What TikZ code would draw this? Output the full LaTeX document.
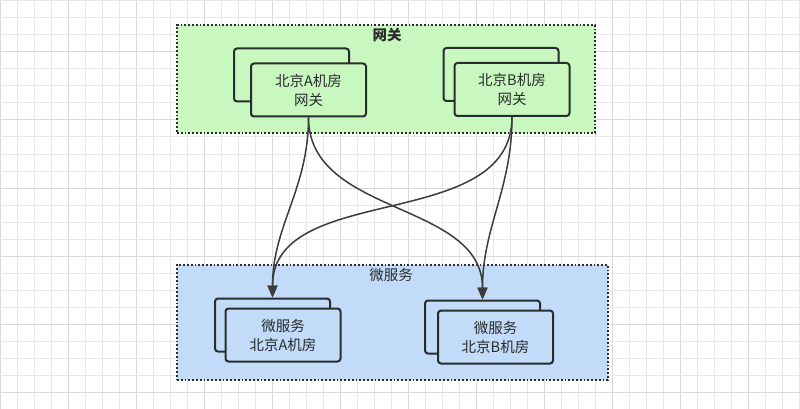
\documentclass[tikz,border=0pt]{standalone}
\usepackage{fontspec}
\setmainfont{Noto Sans CJK SC}
\usepackage{tikz}
\usetikzlibrary{arrows.meta}
\definecolor{zoneGreen}{RGB}{200,248,192}
\definecolor{zoneBlue}{RGB}{193,219,248}
\definecolor{lineDark}{RGB}{40,44,44}
\definecolor{edgeGray}{RGB}{60,60,60}
\definecolor{gridMinor}{RGB}{232,232,232}
\definecolor{gridMajor}{RGB}{218,218,218}
\tikzset{
  zone/.style={draw=lineDark, line width=1.8pt, dash pattern=on 1.8pt off 2pt, minimum width=#1},
  room/.style={draw=lineDark, line width=2pt, rounded corners=3pt, minimum width=115pt, minimum height=53pt, align=center, font=\fontsize{14.5}{19}\selectfont, text=lineDark},
  flow/.style={edgeGray, line width=1.5pt, -{Triangle[length=12pt,width=10pt]}}
}

\begin{document}
\begin{tikzpicture}[x=1pt, y=-1pt]
  \useasboundingbox (0,0) rectangle (800,409);
  % grid
  \foreach \k in {0,...,47} {
    \pgfmathparse{mod(\k,4)==0 ? "gridMajor" : "gridMinor"}
    \draw[\pgfmathresult, line width=1pt] (17*\k,0) -- (17*\k,409);
  }
  \foreach \k in {0,...,24} {
    \pgfmathparse{mod(\k,4)==3 ? "gridMajor" : "gridMinor"}
    \draw[\pgfmathresult, line width=1pt] (0,1+17*\k) -- (800,1+17*\k);
  }

  \node[zone=418pt, minimum height=108pt, fill=zoneGreen] (gwZone) at (386,79) {};
  \node[font=\fontsize{14.5}{19}\selectfont\bfseries, text=lineDark] (gwTitle) at (387,35) {网关};
  \node[zone=431pt, minimum height=115pt, fill=zoneBlue] (msZone) at (392.5,322.5) {};
  \node[font=\fontsize{14.5}{19}\selectfont, text=lineDark] (msTitle) at (391,275) {微服务};

  \node[room, fill=zoneGreen] (gwAback) at (291.5,75) {};
  \node[room, fill=zoneGreen] (gwA) at (308.5,90) {北京A机房\\网关};
  \node[room, fill=zoneGreen] (gwBback) at (501,74.5) {};
  \node[room, fill=zoneGreen] (gwB) at (512,89.5) {北京B机房\\网关};

  \node[room, fill=zoneBlue] (msAback) at (272.5,325) {};
  \node[room, fill=zoneBlue] (msA) at (283,335) {微服务\\北京A机房};
  \node[room, fill=zoneBlue] (msBback) at (482.5,327) {};
  \node[room, fill=zoneBlue] (msB) at (495.5,337) {微服务\\北京B机房};

  \draw[flow] (gwA.south) to[out=-90, in=90] (msAback.north);
  \draw[flow] (gwA.south) to[out=-90, in=90] (msBback.north);
  \draw[flow] (gwB.south) to[out=-90, in=90] (msAback.north);
  \draw[flow] (gwB.south) to[out=-90, in=90] (msBback.north);
\end{tikzpicture}
\end{document}
